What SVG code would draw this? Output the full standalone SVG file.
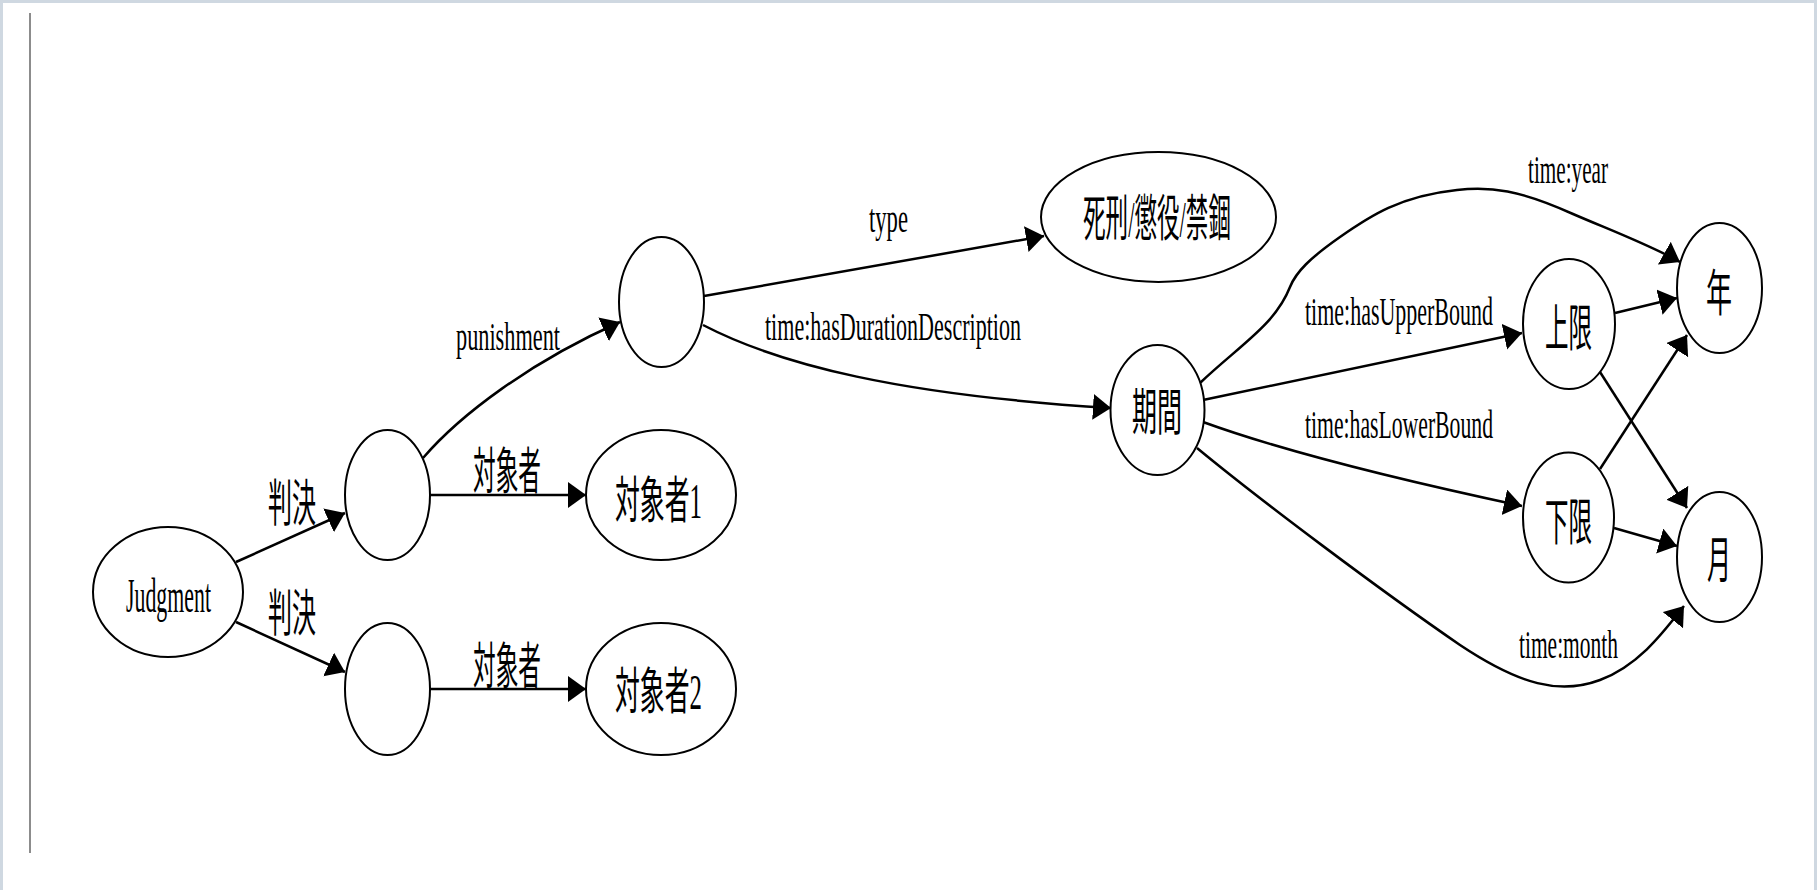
<svg xmlns="http://www.w3.org/2000/svg" width="1817" height="890" viewBox="0 0 1817 890">
<style>
.frame{fill:none;stroke:#cfd8e1;stroke-width:3}
.rule{stroke:#8c8c8c;stroke-width:2}
.node ellipse{fill:#ffffff;stroke:#000000;stroke-width:2}
.edge{fill:none;stroke:#000000;stroke-width:2.5;marker-end:url(#arr)}
text{font-family:"Liberation Serif","Noto Sans CJK JP",serif;fill:#000000}
.el{font-size:22px}
.nl{font-size:22px}
.cj{font-size:24px}
</style>
<defs>
<marker id="arr" markerUnits="userSpaceOnUse" markerWidth="20" markerHeight="28" refX="18" refY="13" orient="auto">
<path d="M0,0 L18,13 L0,26 z" fill="#000000"/>
</marker>
</defs>
<rect x="0" y="0" width="1817" height="890" fill="#ffffff"/>
<path class="frame" d="M1.5,890 V1.5 H1815.5 V890"/>
<line class="rule" x1="30" y1="13" x2="30" y2="853"/>

<g id="connectors">
<g id="e-judgment-b2"><line class="edge" x1="236" y1="562" x2="345" y2="513"/><text class="cj" x="268" y="521" textLength="48" lengthAdjust="spacingAndGlyphs" transform="matrix(1,0,0,2.08,0,-562.68)">判決</text></g>
<g id="e-judgment-b3"><line class="edge" x1="236" y1="622" x2="345" y2="672"/><text class="cj" x="268" y="631" textLength="48" lengthAdjust="spacingAndGlyphs" transform="matrix(1,0,0,2.08,0,-681.48)">判決</text></g>
<g id="e-b2-t1"><line class="edge" x1="430" y1="495" x2="586" y2="495"/><text class="cj" x="473" y="489.5" textLength="68" lengthAdjust="spacingAndGlyphs" transform="matrix(1,0,0,2.08,0,-528.66)">対象者</text></g>
<g id="e-b3-t2"><line class="edge" x1="430" y1="689" x2="586" y2="689"/><text class="cj" x="473" y="684.5" textLength="68" lengthAdjust="spacingAndGlyphs" transform="matrix(1,0,0,2.08,0,-739.26)">対象者</text></g>
<g id="e-b2-b1"><path class="edge" d="M423,458 C460,415 530,362 620,322"/><text class="el" x="456" y="350" textLength="104" lengthAdjust="spacingAndGlyphs" transform="matrix(1,0,0,1.8,0,-280)">punishment</text></g>
<g id="e-b1-type"><line class="edge" x1="704" y1="296" x2="1044" y2="236"/><text class="el" x="869" y="232" textLength="39" lengthAdjust="spacingAndGlyphs" transform="matrix(1,0,0,1.8,0,-185.6)">type</text></g>
<g id="e-b1-period"><path class="edge" d="M703,325 C780,365 900,395 1111,408"/><text class="el" x="765" y="340" textLength="256" lengthAdjust="spacingAndGlyphs" transform="matrix(1,0,0,1.8,0,-272)">time:hasDurationDescription</text></g>
<g id="e-period-upper"><line class="edge" x1="1203" y1="400" x2="1522" y2="333"/><text class="el" x="1305" y="325" textLength="188" lengthAdjust="spacingAndGlyphs" transform="matrix(1,0,0,1.8,0,-260)">time:hasUpperBound</text></g>
<g id="e-period-lower"><path class="edge" d="M1203,422 C1280,450 1400,480 1522,506"/><text class="el" x="1305" y="438" textLength="188" lengthAdjust="spacingAndGlyphs" transform="matrix(1,0,0,1.8,0,-350.4)">time:hasLowerBound</text></g>
<g id="e-period-year"><path class="edge" d="M1200,383 C1240,345 1275,325 1290,287 C1296,272 1310,258 1340,237 C1370,216 1400,196 1457,190 C1490,186 1520,190 1573,214 C1610,230 1650,245 1680,262"/><text class="el" x="1528" y="183" textLength="80" lengthAdjust="spacingAndGlyphs" transform="matrix(1,0,0,1.8,0,-146.4)">time:year</text></g>
<g id="e-period-month"><path class="edge" d="M1197,448 C1260,500 1380,590 1460,645 C1520,685 1560,695 1600,680 C1640,665 1665,630 1684,606"/><text class="el" x="1519" y="658" textLength="99" lengthAdjust="spacingAndGlyphs" transform="matrix(1,0,0,1.8,0,-526.4)">time:month</text></g>
<g id="e-upper-year"><line class="edge" x1="1615" y1="313" x2="1677" y2="298"/></g>
<g id="e-upper-month"><line class="edge" x1="1600" y1="372" x2="1687" y2="508"/></g>
<g id="e-lower-year"><line class="edge" x1="1600" y1="469" x2="1687" y2="335"/></g>
<g id="e-lower-month"><line class="edge" x1="1614" y1="528" x2="1677" y2="546"/></g>
</g>

<g id="n-judgment" class="node"><ellipse cx="168" cy="592" rx="75" ry="65"/><text class="nl" x="126" y="612" textLength="85" lengthAdjust="spacingAndGlyphs" transform="matrix(1,0,0,2.25,0,-765)">Judgment</text></g>
<g id="n-b2" class="node"><ellipse cx="387.5" cy="495" rx="42.5" ry="65"/></g>
<g id="n-b3" class="node"><ellipse cx="387.5" cy="689" rx="42.5" ry="66"/></g>
<g id="n-target1" class="node"><ellipse cx="661" cy="495" rx="75" ry="65"/><text class="cj" x="615" y="518.5" textLength="87" lengthAdjust="spacingAndGlyphs" transform="matrix(1,0,0,2.08,0,-559.98)">対象者1</text></g>
<g id="n-target2" class="node"><ellipse cx="661" cy="689" rx="75" ry="66"/><text class="cj" x="615" y="709.5" textLength="87" lengthAdjust="spacingAndGlyphs" transform="matrix(1,0,0,2.08,0,-766.26)">対象者2</text></g>
<g id="n-b1" class="node"><ellipse cx="661.5" cy="302" rx="42.5" ry="65"/></g>
<g id="n-type" class="node"><ellipse cx="1158.5" cy="217" rx="117.5" ry="65"/><text class="cj" x="1083" y="236.5" textLength="148" lengthAdjust="spacingAndGlyphs" transform="matrix(1,0,0,2.08,0,-255.42)">死刑/懲役/禁錮</text></g>
<g id="n-period" class="node"><ellipse cx="1157.5" cy="410" rx="47" ry="65"/><text class="cj" x="1132" y="430" textLength="50" lengthAdjust="spacingAndGlyphs" transform="matrix(1,0,0,2.08,0,-464.4)">期間</text></g>
<g id="n-upper" class="node"><ellipse cx="1569" cy="324" rx="46" ry="65"/><text class="cj" x="1545" y="346.5" textLength="47" lengthAdjust="spacingAndGlyphs" transform="matrix(1,0,0,2.08,0,-374.22)">上限</text></g>
<g id="n-lower" class="node"><ellipse cx="1568.5" cy="517.5" rx="45.5" ry="65"/><text class="cj" x="1545" y="540" textLength="47" lengthAdjust="spacingAndGlyphs" transform="matrix(1,0,0,2.08,0,-583.2)">下限</text></g>
<g id="n-year" class="node"><ellipse cx="1719.5" cy="288" rx="42.5" ry="65"/><text class="cj" x="1706" y="311.5" textLength="26" lengthAdjust="spacingAndGlyphs" transform="matrix(1,0,0,2.08,0,-336.42)">年</text></g>
<g id="n-month" class="node"><ellipse cx="1719.5" cy="557" rx="42.5" ry="65"/><text class="cj" x="1707" y="578.5" textLength="24" lengthAdjust="spacingAndGlyphs" transform="matrix(1,0,0,2.08,0,-624.78)">月</text></g>
</svg>
